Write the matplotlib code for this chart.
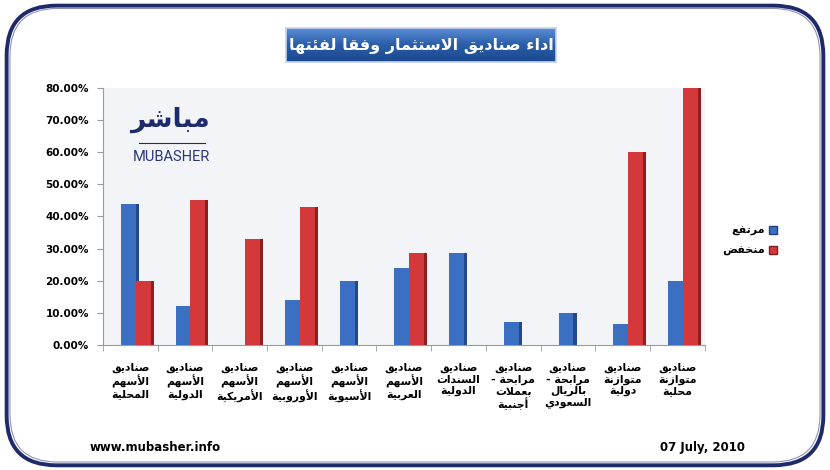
import numpy as np
import matplotlib
matplotlib.use("Agg")
import matplotlib.pyplot as plt
from matplotlib.patches import FancyBboxPatch, Patch
from matplotlib.colors import LinearSegmentedColormap


# --- data ---
categories = [
    "صناديق\nالأسهم\nالمحلية",
    "صناديق\nالأسهم\nالدولية",
    "صناديق\nالأسهم\nالأمريكية",
    "صناديق\nالأسهم\nالأوروبية",
    "صناديق\nالأسهم\nالأسيوية",
    "صناديق\nالأسهم\nالعربية",
    "صناديق\nالسندات\nالدولية",
    "صناديق\nمرابحة -\nبعملات\nأجنبية",
    "صناديق\nمرابحة -\nبالريال\nالسعودي",
    "صناديق\nمتوازنة\nدولية",
    "صناديق\nمتوازنة\nمحلية",
]
high = [0.44, 0.12, 0.0, 0.14, 0.20, 0.24, 0.285, 0.07, 0.10, 0.065, 0.20]
low = [0.20, 0.45, 0.33, 0.43, 0.0, 0.285, 0.0, 0.0, 0.0, 0.60, 0.80]
series_names = ["مرتفع", "منخفض"]
yticks = [0, 0.1, 0.2, 0.3, 0.4, 0.5, 0.6, 0.7, 0.8]
title = "اداء صناديق الاستثمار وفقا لفئتها"
site = "www.mubasher.info"
date = "07 July, 2010"


# matplotlib has no arabic shaping, so map letters to presentation forms
# and reverse them for right-to-left display
_forms = {}
_code = 0xFE80
for ch, n in [(0x621, 1), (0x622, 2), (0x623, 2), (0x624, 2), (0x625, 2),
              (0x626, 4), (0x627, 2), (0x628, 4), (0x629, 2)] + \
             [(c, 4) for c in range(0x62A, 0x62F)] + \
             [(c, 2) for c in range(0x62F, 0x633)] + \
             [(c, 4) for c in range(0x633, 0x63B)] + \
             [(c, 4) for c in range(0x641, 0x648)] + \
             [(0x648, 2), (0x649, 2), (0x64A, 4)]:
    _forms[chr(ch)] = (_code, n)
    _code += n
_lam_alef = {"آ": 0xFEF5, "أ": 0xFEF7, "إ": 0xFEF9, "ا": 0xFEFB}


def shape_line(s):
    tokens = []
    i = 0
    while i < len(s):
        c = s[i]
        if c == "ل" and i + 1 < len(s) and s[i + 1] in _lam_alef:
            tokens.append((_lam_alef[s[i + 1]], 2))
            i += 2
            continue
        if c in _forms:
            tokens.append(_forms[c])
        else:
            tokens.append((c, 0))
        i += 1
    out = []
    for k, (code, n) in enumerate(tokens):
        if n == 0:
            out.append(code)
            continue
        prev_ok = k > 0 and tokens[k - 1][1] == 4 and n >= 2
        next_ok = n == 4 and k + 1 < len(tokens) and tokens[k + 1][1] >= 2
        if prev_ok and next_ok:
            f = 3
        elif prev_ok:
            f = 1
        elif next_ok:
            f = 2
        else:
            f = 0
        out.append(chr(code + f))
    return "".join(out[::-1])


def ar(s):
    return "\n".join(shape_line(l) for l in s.split("\n"))


blue = "#3b6fc2"
blue_side = "#23498a"
red = "#d4383a"
red_side = "#8e1f1f"
navy = "#1e2a6a"

fig = plt.figure(figsize=(8.3, 4.7), dpi=100)
fig.patch.set_facecolor("white")

# rounded frame
fig.patches.append(FancyBboxPatch((0.008, 0.01), 0.984, 0.978,
                                  boxstyle="round,pad=0,rounding_size=0.06",
                                  transform=fig.transFigure, fill=False,
                                  edgecolor=navy, linewidth=2.8, mutation_aspect=830 / 470))
fig.patches.append(FancyBboxPatch((0.012, 0.017), 0.976, 0.965,
                                  boxstyle="round,pad=0,rounding_size=0.057",
                                  transform=fig.transFigure, fill=False,
                                  edgecolor="#8b93b8", linewidth=0.8, mutation_aspect=830 / 470))

ax = fig.add_axes([0.124, 0.266, 0.725, 0.547])
ax.set_facecolor("#f3f4f7")

x = np.arange(len(categories))
w = 0.27
off = 0.1
side = 0.07
ax.bar(x + off + side / 2 - 0.01, high, width=side, color=blue_side, zorder=2)
ax.bar(x + off - w / 2, high, width=w, color=blue, zorder=3)
ax.bar(x + off + w + side / 2 - 0.01, low, width=side, color=red_side, zorder=2)
ax.bar(x + off + w / 2, low, width=w, color=red, zorder=3)

ax.set_xlim(-0.5, len(categories) - 0.5)
ax.set_ylim(0, 0.8)
ax.set_yticks(yticks)
ax.set_yticklabels(["%.2f%%" % (v * 100) for v in yticks], fontsize=7.5, fontweight="bold")
ax.set_xticks(x)
ax.set_xticklabels([ar(c) for c in categories], fontsize=7.8, fontweight="bold",
                   va="top", linespacing=1.15)
ax.set_xticks(np.arange(len(categories) + 1) - 0.5, minor=True)
ax.tick_params(axis="x", which="major", length=0, pad=13)
ax.tick_params(axis="x", which="minor", length=4, color="#9a9a9a")
ax.tick_params(axis="y", length=4, color="#9a9a9a", pad=6)
for s in ["top", "right"]:
    ax.spines[s].set_visible(False)
ax.spines["left"].set_color("#9a9a9a")
ax.spines["bottom"].set_color("#9a9a9a")

# logo
ax.text(0.112, 0.875, ar("مباشر"), transform=ax.transAxes, fontsize=19,
        fontweight="bold", color=navy, ha="center", va="center")
ax.plot([0.06, 0.17], [0.785, 0.785], transform=ax.transAxes, color=navy, lw=0.8)
ax.text(0.113, 0.73, "MUBASHER", transform=ax.transAxes, fontsize=10.5,
        color="#2b3778", ha="center", va="center", family="Roboto")

handles = [Patch(facecolor=blue, edgecolor="#1f3f80"), Patch(facecolor=red, edgecolor="#801f1f")]
fig.legend(handles, [ar(n) for n in series_names], loc="center right",
           bbox_to_anchor=(0.948, 0.487), frameon=False, markerfirst=False,
           handlelength=0.7, handleheight=0.7, handletextpad=0.4,
           labelspacing=0.9, prop={"size": 8, "weight": "bold"})

# title box with gradient
tax = fig.add_axes([0.345, 0.868, 0.325, 0.072])
cmap = LinearSegmentedColormap.from_list("tb", ["#5a8ed6", "#2a5ca8", "#1d4a90"])
tax.imshow(np.linspace(0, 1, 50).reshape(-1, 1), aspect="auto", cmap=cmap,
           extent=[0, 1, 0, 1])
tax.set_xticks([])
tax.set_yticks([])
for s in tax.spines.values():
    s.set_color("#c8d4ea")
    s.set_linewidth(1.2)
tax.text(0.5, 0.48, ar(title), color="white", fontsize=11.5, fontweight="bold",
         ha="center", va="center", transform=tax.transAxes)

fig.text(0.108, 0.047, site, fontsize=8.5, fontweight="bold", va="center")
fig.text(0.898, 0.047, date, fontsize=8.5, fontweight="bold", va="center", ha="right")

fig.savefig("out.png", dpi=100)
